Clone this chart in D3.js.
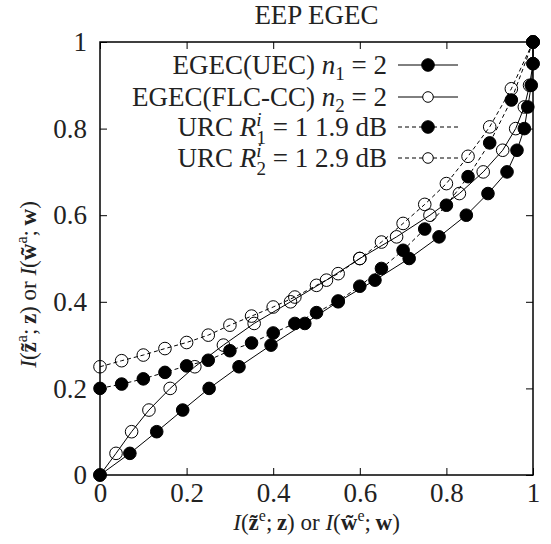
<!DOCTYPE html>
<html>
<head>
<meta charset="utf-8">
<script src="https://cdn.jsdelivr.net/npm/d3@7"></script>
<style>
  body { margin: 0; background: #fff; }
  svg { display: block; }
</style>
</head>
<body>
<div id="chart"></div>
<script>
// values
const tickValues = [0, 0.2, 0.4, 0.6, 0.8, 1]
const tickLabels = ['0', '0.2', '0.4', '0.6', '0.8', '1']

const uecX = [0, 0.069, 0.131, 0.191, 0.252, 0.321, 0.395, 0.473, 0.55, 0.635, 0.714, 0.783, 0.846, 0.896, 0.94, 0.963, 0.98, 0.988, 0.996, 1, 1]
const uecY = [0, 0.05, 0.1, 0.15, 0.2, 0.25, 0.3, 0.35, 0.4, 0.45, 0.5, 0.55, 0.6, 0.65, 0.7, 0.75, 0.8, 0.85, 0.9, 0.95, 1]

const flcX = [0, 0.037, 0.073, 0.113, 0.162, 0.219, 0.285, 0.356, 0.44, 0.523, 0.6, 0.685, 0.762, 0.83, 0.885, 0.93, 0.96, 0.98, 0.992, 1, 1]
const flcY = [0, 0.05, 0.1, 0.15, 0.2, 0.25, 0.3, 0.35, 0.4, 0.45, 0.5, 0.55, 0.6, 0.65, 0.7, 0.75, 0.8, 0.85, 0.9, 0.95, 1]

const urcX = [0, 0.05, 0.1, 0.15, 0.2, 0.25, 0.3, 0.35, 0.4, 0.45, 0.5, 0.55, 0.6, 0.65, 0.7, 0.75, 0.8, 0.85, 0.9, 0.95, 1]
const urc1Y = [0.2, 0.21, 0.222, 0.237, 0.252, 0.265, 0.287, 0.305, 0.328, 0.35, 0.375, 0.402, 0.436, 0.477, 0.519, 0.568, 0.623, 0.689, 0.767, 0.866, 1]
const urc2Y = [0.25, 0.264, 0.277, 0.292, 0.306, 0.323, 0.346, 0.367, 0.388, 0.411, 0.438, 0.465, 0.5, 0.538, 0.581, 0.625, 0.673, 0.736, 0.804, 0.892, 1]

const series = [
  { xs: uecX, ys: uecY, filled: true, dashed: false },
  { xs: flcX, ys: flcY, filled: false, dashed: false },
  { xs: urcX, ys: urc1Y, filled: true, dashed: true },
  { xs: urcX, ys: urc2Y, filled: false, dashed: true },
]

const width = 551
const height = 544
const margin = { top: 42, right: 18, bottom: 69, left: 100 }
const font = '"Liberation Serif", "Times New Roman", serif'
const fontSize = 27
const small = 19
const labelSize = 23
const labelSmall = 16

const x = d3.scaleLinear().domain([0, 1]).range([margin.left, width - margin.right])
const y = d3.scaleLinear().domain([0, 1]).range([height - margin.bottom, margin.top])

const svg = d3.select('#chart').append('svg')
  .attr('width', width)
  .attr('height', height)
  .attr('font-family', font)

// axes: ticks point inward on all four sides
const fmt = (d) => tickLabels[tickValues.indexOf(d)]
const tk = 7

const gx = svg.append('g')
  .attr('transform', `translate(0,${y(0)})`)
  .call(d3.axisBottom(x).tickValues(tickValues).tickFormat(fmt).tickSizeInner(-tk).tickSizeOuter(0).tickPadding(8))
const gy = svg.append('g')
  .attr('transform', `translate(${x(0)},0)`)
  .call(d3.axisLeft(y).tickValues(tickValues).tickFormat(fmt).tickSizeInner(-tk).tickSizeOuter(0).tickPadding(13))
const gt = svg.append('g')
  .attr('transform', `translate(0,${y(1)})`)
  .call(d3.axisTop(x).tickValues(tickValues).tickFormat('').tickSizeInner(-tk).tickSizeOuter(0))
const gr = svg.append('g')
  .attr('transform', `translate(${x(1)},0)`)
  .call(d3.axisRight(y).tickValues(tickValues).tickFormat('').tickSizeInner(-tk).tickSizeOuter(0))

for (const g of [gx, gy, gt, gr]) {
  g.select('.domain').remove()
  g.selectAll('line').attr('stroke', '#000').attr('stroke-width', 1)
  g.selectAll('text')
    .attr('font-family', font)
    .attr('font-size', fontSize)
    .attr('fill', '#222')
}

svg.append('rect')
  .attr('x', x(0))
  .attr('y', y(1))
  .attr('width', x(1) - x(0))
  .attr('height', y(0) - y(1))
  .attr('fill', 'none')
  .attr('stroke', '#000')
  .attr('stroke-width', 1.5)

// curves
const line = d3.line().x((d) => x(d[0])).y((d) => y(d[1]))
const r = 6.3

series.forEach((s) => {
  const pts = s.xs.map((v, i) => [v, s.ys[i]])
  svg.append('path')
    .datum(pts)
    .attr('d', line)
    .attr('fill', 'none')
    .attr('stroke', '#000')
    .attr('stroke-width', 1)
    .attr('stroke-dasharray', s.dashed ? '4,3' : null)
  svg.append('g')
    .selectAll('circle')
    .data(pts)
    .join('circle')
    .attr('cx', (d) => x(d[0]))
    .attr('cy', (d) => y(d[1]))
    .attr('r', r)
    .attr('fill', s.filled ? '#000' : 'none')
    .attr('stroke', '#000')
    .attr('stroke-width', 1)
})

// rich text helper: parts = {t, i: italic, b: bold, dy, dx, s: size}
function rich(sel, parts) {
  parts.forEach((p) => {
    const t = sel.append('tspan').text(p.t)
    if (p.i) t.attr('font-style', 'italic')
    if (p.b) t.attr('font-weight', 'bold')
    if (p.dy) t.attr('dy', p.dy)
    if (p.dx) t.attr('dx', p.dx)
    if (p.s) t.attr('font-size', p.s)
  })
  return sel
}

// legend
const legendItems = [
  { parts: [{ t: 'EGEC(UEC) ' }, { t: 'n', i: true }, { t: '1', s: small, dy: 6 }, { t: ' = 2', dy: -6 }], filled: true, dashed: false, rr: 6.3 },
  { parts: [{ t: 'EGEC(FLC-CC) ' }, { t: 'n', i: true }, { t: '2', s: small, dy: 6 }, { t: ' = 2', dy: -6 }], filled: false, dashed: false, rr: 5.3 },
  { parts: [{ t: 'URC ' }, { t: 'R', i: true }, { t: 'i', i: true, s: small, dy: -10 }, { t: '1', s: small, dy: 18, dx: -5 }, { t: ' = 1 1.9 dB', dy: -8 }], filled: true, dashed: true, rr: 6.3 },
  { parts: [{ t: 'URC ' }, { t: 'R', i: true }, { t: 'i', i: true, s: small, dy: -10 }, { t: '2', s: small, dy: 18, dx: -5 }, { t: ' = 1 2.9 dB', dy: -8 }], filled: false, dashed: true, rr: 5.3 },
]
const legendRows = [65, 97, 127, 158]

legendItems.forEach((it, i) => {
  const cy = legendRows[i]
  rich(svg.append('text')
    .attr('x', 387)
    .attr('y', cy + 9)
    .attr('text-anchor', 'end')
    .attr('font-size', fontSize)
    .attr('fill', '#222'), it.parts)
  svg.append('line')
    .attr('x1', 398).attr('x2', 458)
    .attr('y1', cy).attr('y2', cy)
    .attr('stroke', '#000')
    .attr('stroke-width', 1)
    .attr('stroke-dasharray', it.dashed ? '4,3' : null)
  svg.append('circle')
    .attr('cx', 428).attr('cy', cy)
    .attr('r', it.rr)
    .attr('fill', it.filled ? '#000' : '#fff')
    .attr('stroke', '#000')
})

// title
svg.append('text')
  .attr('x', (x(0) + x(1)) / 2)
  .attr('y', 24)
  .attr('text-anchor', 'middle')
  .attr('font-size', fontSize)
  .attr('fill', '#222')
  .text('EEP EGEC')

// axis labels
const tildeZ = 'z\u0303'
const tildeW = 'w\u0303'
const thin = '\u2009'
const labelParts = (sup) => [
  { t: 'I', i: true }, { t: '(' }, { t: tildeZ, b: true }, { t: sup, s: labelSmall, dy: -9 },
  { t: ';' + thin, dy: 9 }, { t: 'z', b: true }, { t: ') or ' },
  { t: 'I', i: true }, { t: '(' }, { t: tildeW, b: true }, { t: sup, s: labelSmall, dy: -9 },
  { t: ';' + thin, dy: 9 }, { t: 'w', b: true }, { t: ')' },
]

rich(svg.append('text')
  .attr('x', (x(0) + x(1)) / 2)
  .attr('y', 530)
  .attr('text-anchor', 'middle')
  .attr('font-size', labelSize)
  .attr('fill', '#222'), labelParts('e'))

rich(svg.append('text')
  .attr('transform', `translate(36,${y(0.44)}) rotate(-90)`)
  .attr('text-anchor', 'middle')
  .attr('font-size', labelSize)
  .attr('fill', '#222'), labelParts('a'))
</script>
</body>
</html>
